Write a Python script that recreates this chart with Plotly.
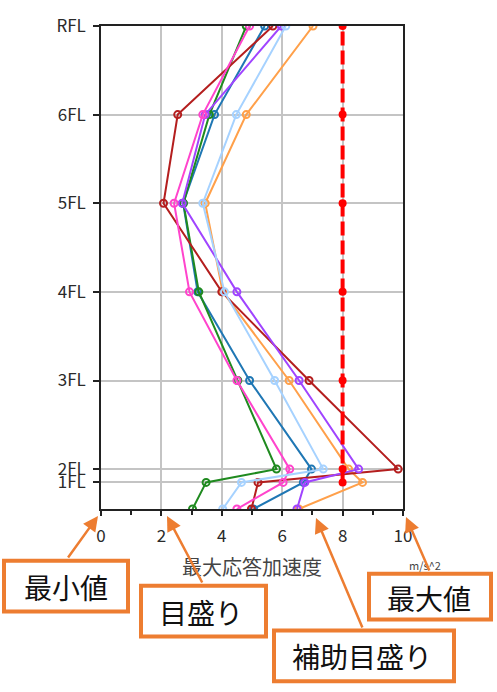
import plotly.graph_objects as go

# ---- data ----
floor_labels = ["RFL", "6FL", "5FL", "4FL", "3FL", "2FL", "1FL"]
floor_heights = [21.8, 17.8, 13.8, 9.8, 5.8, 1.8, 1.2]
levels = [0, 1.2, 1.8, 5.8, 9.8, 13.8, 17.8, 21.8]  # base, 1FL..RFL

blue = [5.05, 6.70, 6.97, 4.92, 3.20, 2.72, 3.76, 5.42]
orange = [6.55, 8.66, 8.20, 6.23, 4.03, 3.45, 4.81, 7.02]
green = [3.03, 3.48, 5.81, 4.53, 3.24, 2.73, 3.59, 4.81]
darkred = [4.98, 5.20, 9.84, 6.89, 4.00, 2.07, 2.54, 5.69]
purple = [6.49, 6.75, 8.53, 6.56, 4.50, 2.69, 3.45, 5.97]
pink = [4.50, 6.03, 6.25, 4.50, 2.93, 2.42, 3.37, 4.92]
lightblue = [4.03, 4.65, 7.36, 5.75, 4.09, 3.37, 4.48, 6.12]
limit = [None, 8, 8, 8, 8, 8, 8, 8]

x_tick_vals = [0, 2, 4, 6, 8, 10]
x_title = "最大応答加速度"
x_unit = "m/s^2"
callouts = ["最小値", "目盛り", "補助目盛り", "最大値"]

series = [
    (blue, "#1f77b4"),
    (orange, "#ffa04a"),
    (green, "#1f8a1f"),
    (darkred, "#b41e1e"),
    (purple, "#a044ff"),
    (pink, "#ff44cc"),
    (lightblue, "#a6d2ff"),
]

FONT = "Noto Sans CJK JP"
W, H = 497, 692
L, R, T, B = 101, 94, 24, 183
PW = W - L - R
PH = H - T - B


def px(x):
    return (x - L) / PW


def py(y):
    return (H - B - y) / PH


fig = go.Figure()
for vals, col in series:
    fig.add_trace(go.Scatter(
        x=vals, y=levels, mode="lines+markers",
        line=dict(color=col, width=2),
        marker=dict(symbol="circle-open", size=7, color=col, line=dict(width=2)),
        showlegend=False,
    ))
fig.add_trace(go.Scatter(
    x=limit, y=levels, mode="lines+markers",
    line=dict(color="#ff0000", width=4, dash="14px,5px"),
    marker=dict(symbol="circle", size=8, color="#ff0000"),
    showlegend=False,
))

axis_common = dict(
    showgrid=True, gridcolor="#c4c4c4", gridwidth=1.5,
    showline=True, linecolor="#222", linewidth=1.5, mirror=True,
    ticks="outside", tickcolor="#222", tickwidth=1.5,
    zeroline=False,
    tickfont=dict(family=FONT, size=17, color="#2a2a2a"),
)

fig.update_xaxes(
    range=[0, 10], tickvals=x_tick_vals, ticklen=5,
    ticklabelstandoff=6,
    minor=dict(dtick=1, ticks="outside", ticklen=4, tickcolor="#222", showgrid=False),
    **axis_common,
)
fig.update_yaxes(
    range=[0, 21.8], tickvals=floor_heights, ticktext=floor_labels, ticklen=6,
    ticklabelstandoff=4,
    **axis_common,
)

annotations = [
    dict(x=px(252), y=py(567), xref="paper", yref="paper", text=x_title,
         showarrow=False, font=dict(family=FONT, size=20, color="#444"),
         xanchor="center", yanchor="middle"),
    dict(x=px(425), y=py(565), xref="paper", yref="paper", text=x_unit,
         showarrow=False, font=dict(family=FONT, size=11, color="#444"),
         xanchor="center", yanchor="middle"),
]

boxes = [
    (4, 561, 128, 612),
    (141, 586, 266, 637),
    (274, 631, 454, 682),
    (369, 574, 491, 620),
]
text_centers = [(66, 587), (201, 612), (362, 657), (429, 598)]
arrows = [  # tip(x,y), tail(x,y)
    ((98, 516), (67, 559)),
    ((167, 516), (203, 584)),
    ((316, 518), (363, 629)),
    ((406, 517), (430, 572)),
]

shapes = []
for (x0, y0, x1, y1) in boxes:
    shapes.append(dict(type="rect", xref="paper", yref="paper",
                       x0=px(x0), x1=px(x1), y0=py(y1), y1=py(y0),
                       line=dict(color="#ED7D31", width=4), fillcolor="white",
                       layer="above"))

for txt, (cx, cy) in zip(callouts, text_centers):
    annotations.append(dict(x=px(cx), y=py(cy), xref="paper", yref="paper",
                            text=txt, showarrow=False,
                            font=dict(family=FONT, size=28, color="#111"),
                            xanchor="center", yanchor="middle"))

for (tx, ty), (sx, sy) in arrows:
    annotations.append(dict(x=px(tx), y=py(ty), xref="paper", yref="paper",
                            text="", showarrow=True, ax=sx - tx, ay=sy - ty,
                            arrowcolor="#ED7D31", arrowwidth=2.5, arrowhead=2,
                            arrowsize=1.2))

fig.update_layout(
    width=W, height=H,
    margin=dict(l=L, r=R, t=T, b=B),
    plot_bgcolor="white", paper_bgcolor="white",
    shapes=shapes, annotations=annotations,
    font=dict(family=FONT),
)

fig.write_html("out.html")
